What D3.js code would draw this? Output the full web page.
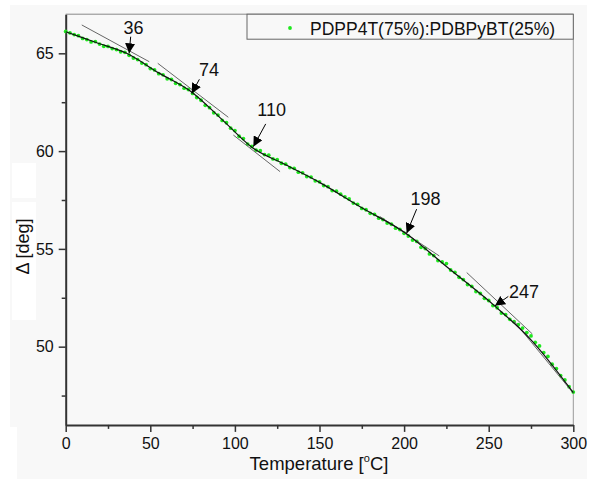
<!DOCTYPE html>
<html>
<head>
<meta charset="utf-8">
<script src="https://cdn.jsdelivr.net/npm/d3@7"></script>
<style>
	body { margin: 0; background: #fff; }
	text { font-family: "Liberation Sans", Arial, sans-serif; fill: #111; }
</style>
</head>
<body>
<div id="container"></div>
<script>
// temperature (deg C) of each measured point
var temps = [0, 2.5, 5, 7.5, 10, 12.5, 15, 17.5, 20, 22.5, 25, 27.5, 30, 32.5, 35, 37.5, 40, 42.5, 45, 47.5,
	50, 52.5, 55, 57.5, 60, 62.5, 65, 67.5, 70, 72.5, 75, 77.5, 80, 82.5, 85, 87.5, 90, 92.5, 95, 97.5,
	100, 102.5, 105, 107.5, 110, 112.5, 115, 117.5, 120, 122.5, 125, 127.5, 130, 132.5, 135, 137.5, 140, 142.5, 145, 147.5,
	150, 152.5, 155, 157.5, 160, 162.5, 165, 167.5, 170, 172.5, 175, 177.5, 180, 182.5, 185, 187.5, 190, 192.5, 195, 197.5,
	200, 202.5, 205, 207.5, 210, 212.5, 215, 217.5, 220, 222.5, 225, 227.5, 230, 232.5, 235, 237.5, 240, 242.5, 245, 247.5,
	250, 252.5, 255, 257.5, 260, 262.5, 265, 267.5, 270, 272.5, 275, 277.5, 280, 282.5, 285, 287.5, 290, 292.5, 295, 297.5, 300];
// measured delta (deg)
var deltas = [66.12, 66.05, 65.96, 65.90, 65.76, 65.70, 65.58, 65.60, 65.47, 65.36, 65.35, 65.24, 65.19, 65.08, 65.05, 64.90, 64.76, 64.68, 64.50, 64.42,
	64.22, 64.15, 63.96, 63.90, 63.70, 63.66, 63.47, 63.40, 63.22, 63.15, 62.95, 62.74, 62.60, 62.34, 62.22, 61.96, 61.84, 61.57, 61.45, 61.17,
	61.05, 60.76, 60.64, 60.36, 60.24, 60.05, 60.02, 59.82, 59.79, 59.60, 59.56, 59.38, 59.33, 59.16, 59.12, 58.92, 58.89, 58.70, 58.67, 58.48,
	58.43, 58.24, 58.18, 57.98, 57.95, 57.80, 57.66, 57.55, 57.34, 57.28, 57.07, 57.00, 56.82, 56.76, 56.57, 56.50, 56.32, 56.26, 56.06, 55.99,
	55.80, 55.66, 55.45, 55.38, 55.08, 55.02, 54.74, 54.66, 54.40, 54.34, 54.25, 53.92, 53.80, 53.55, 53.43, 53.18, 53.08, 52.82, 52.72, 52.47,
	52.36, 52.10, 51.99, 51.72, 51.64, 51.40, 51.28, 51.12, 50.95, 50.72, 50.55, 50.22, 50.04, 49.70, 49.50, 49.10, 48.88, 48.52, 48.30, 47.95, 47.68];

// black fitted curve
var fitTemps = [0, 18, 36, 55, 74, 92, 110, 130, 150, 175, 201, 225, 254, 275, 300];
var fitDeltas = [66.1, 65.55, 65.0, 64.0, 63.05, 61.65, 60.2, 59.3, 58.4, 57.1, 55.8, 54.1, 52.05, 50.35, 47.65];

// gray tangent lines: [x1, y1, x2, y2]
var tangents = [
	[9.5, 66.45, 49.4, 64.57],
	[54.4, 64.49, 96.1, 61.73],
	[99.1, 60.82, 126.7, 58.95],
	[185.8, 56.65, 220.8, 54.64],
	[237, 53.79, 275.8, 50.65],
	[265, 51.3, 300, 47.62]
];

// transition annotations
var transLabels = ["36", "74", "110", "198", "247"];
var labelPos = [[40.1, 65.99], [84.7, 63.84], [121.7, 61.79], [212.6, 57.25], [270.9, 52.48]];
var arrowFrom = [[38.4, 65.85], [79.0, 63.67], [118.2, 61.39], [207.4, 57.03], [261.6, 52.57]];
var arrowTo = [[37.5, 65.0], [74.5, 62.95], [110.9, 60.23], [201.5, 55.8], [253.7, 52.09]];

var xMajor = [0, 50, 100, 150, 200, 250, 300];
var xMinor = [25, 75, 125, 175, 225, 275];
var yMajor = [50, 55, 60, 65];
var yMinor = [47.5, 52.5, 57.5, 62.5];

var seriesName = "PDPP4T(75%):PDBPyBT(25%)";

(function()
{
	var W = 591, H = 479;
	var left = 65.7, right = 573.3, top = 14.2, bottom = 424.9;
	var green = "#1ee81e";

	var svg = d3.select("#container").append("svg")
		.attr("width", W)
		.attr("height", H);

	// background, with the white patches of the original
	svg.append("rect").attr("x", 10).attr("y", 5).attr("width", 577).attr("height", 474).attr("fill", "#f8f8f8");
	svg.append("rect").attr("x", 12).attr("y", 163).attr("width", 24).attr("height", 35).attr("fill", "#fff");
	svg.append("rect").attr("x", 12).attr("y", 202).attr("width", 24).attr("height", 118).attr("fill", "#fff");
	svg.append("rect").attr("x", 0).attr("y", 427).attr("width", 17).attr("height", 52).attr("fill", "#fff");

	var x = d3.scaleLinear().domain([0, 300]).range([left, right]);
	var y = d3.scaleLinear().domain([46, 67]).range([bottom, top]);

	// frame top / right
	svg.append("line").attr("x1", left).attr("x2", right).attr("y1", top).attr("y2", top)
		.style("stroke", "#888").style("stroke-width", "1px");
	svg.append("line").attr("x1", right).attr("x2", right).attr("y1", top).attr("y2", bottom)
		.style("stroke", "#999").style("stroke-width", "1px");

	// axes
	svg.append("g").attr("transform", "translate(0," + bottom + ")")
		.call(d3.axisBottom(x).tickValues(xMajor).tickSize(7).tickSizeOuter(0).tickPadding(6).tickFormat(d3.format("d")));
	svg.append("g").attr("transform", "translate(0," + bottom + ")")
		.call(d3.axisBottom(x).tickValues(xMinor).tickSize(4).tickSizeOuter(0).tickFormat(""))
		.select(".domain").remove();
	svg.append("g").attr("transform", "translate(" + left + ",0)")
		.call(d3.axisLeft(y).tickValues(yMajor).tickSize(7).tickSizeOuter(0).tickPadding(5).tickFormat(d3.format("d")));
	svg.append("g").attr("transform", "translate(" + left + ",0)")
		.call(d3.axisLeft(y).tickValues(yMinor).tickSize(4).tickSizeOuter(0).tickFormat(""))
		.select(".domain").remove();

	svg.selectAll(".domain").style("stroke", "#333").style("stroke-width", "2px");
	svg.selectAll(".tick line").style("stroke", "#333").style("stroke-width", "1.5px");
	svg.selectAll(".tick text").style("font-size", "16px").style("font-family", "'Liberation Sans', Arial, sans-serif").attr("fill", "#111");

	// axis titles
	var xt = svg.append("text")
		.attr("x", 319)
		.attr("y", 470)
		.attr("text-anchor", "middle")
		.style("font-size", "18.5px");
	xt.append("tspan").text("Temperature [");
	xt.append("tspan").text("o").style("font-size", "11px").attr("dy", -8);
	xt.append("tspan").text("C]").attr("dy", 8);

	svg.append("text")
		.attr("transform", "translate(29,246.5) rotate(-90)")
		.attr("text-anchor", "middle")
		.style("font-size", "18px")
		.text("\u0394 [deg]");

	// measured points
	svg.selectAll()
		.data(temps)
		.enter().append("circle")
		.attr("cx", function(d) { return x(d); })
		.attr("cy", function(d, i) { return y(deltas[i]); })
		.attr("r", 1.9)
		.attr("fill", green);

	// tangent lines
	svg.selectAll()
		.data(tangents)
		.enter().append("line")
		.attr("x1", function(d) { return x(d[0]); })
		.attr("y1", function(d) { return y(d[1]); })
		.attr("x2", function(d) { return x(d[2]); })
		.attr("y2", function(d) { return y(d[3]); })
		.style("stroke", "#666")
		.style("stroke-width", "1px");

	// fitted curve
	var line = d3.line()
		.x(function(d) { return x(d); })
		.y(function(d, i) { return y(fitDeltas[i]); })
		.curve(d3.curveMonotoneX);
	svg.append("path")
		.attr("d", line(fitTemps))
		.attr("fill", "none")
		.style("stroke", "#111")
		.style("stroke-width", "1.2px");

	// arrows
	svg.append("defs").append("marker")
		.attr("id", "head")
		.attr("viewBox", "0 0 10 10")
		.attr("refX", 10).attr("refY", 5)
		.attr("markerWidth", 10).attr("markerHeight", 10)
		.attr("markerUnits", "userSpaceOnUse")
		.attr("orient", "auto")
		.append("path").attr("d", "M0,0 L10,5 L0,10 z").attr("fill", "#000");

	for (var i = 0; i < transLabels.length; i++)
	{
		svg.append("line")
			.attr("x1", x(arrowFrom[i][0]))
			.attr("y1", y(arrowFrom[i][1]))
			.attr("x2", x(arrowTo[i][0]))
			.attr("y2", y(arrowTo[i][1]))
			.style("stroke", "#000")
			.style("stroke-width", "1px")
			.attr("marker-end", "url(#head)");
		svg.append("text")
			.attr("x", x(labelPos[i][0]))
			.attr("y", y(labelPos[i][1]))
			.attr("text-anchor", "middle")
			.style("font-size", "18px")
			.text(transLabels[i]);
	}

	// legend
	svg.append("rect")
		.attr("x", 247).attr("y", top)
		.attr("width", right - 247).attr("height", 25)
		.attr("fill", "#f8f8f8")
		.style("stroke", "#666").style("stroke-width", "1px");
	svg.append("circle").attr("cx", 290).attr("cy", 28).attr("r", 1.9).attr("fill", green);
	svg.append("text")
		.attr("x", 310)
		.attr("y", 34.5)
		.style("font-size", "17.5px")
		.text(seriesName);
})();
</script>
</body>
</html>
